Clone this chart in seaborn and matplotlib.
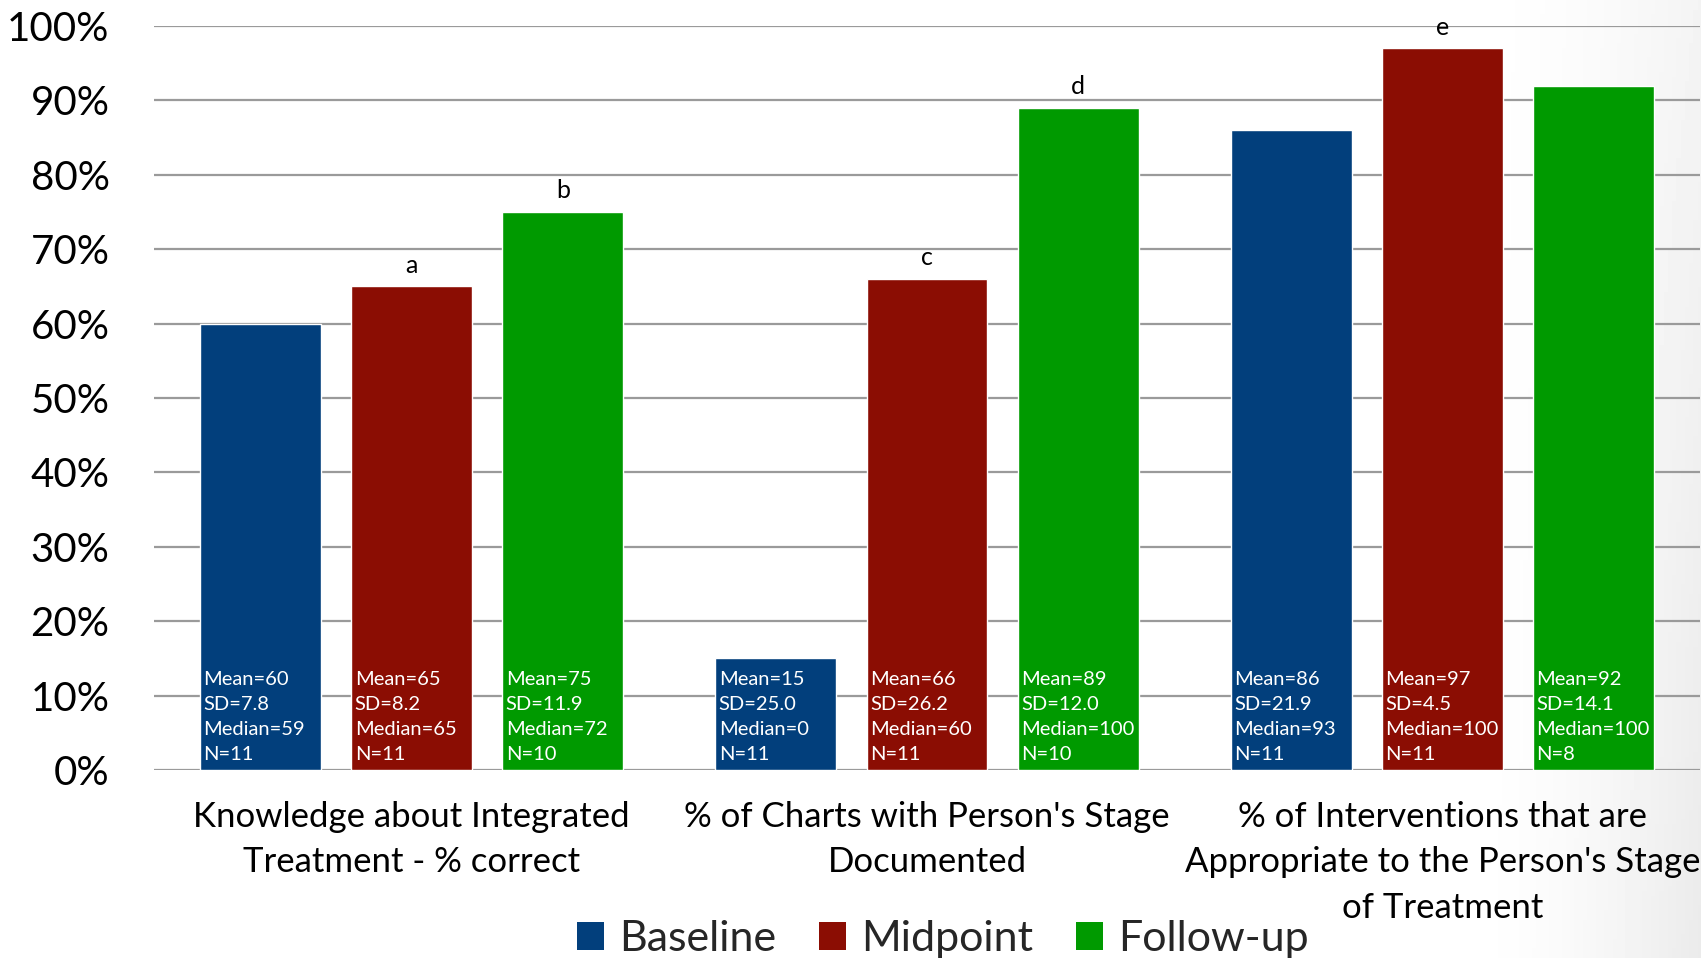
import numpy as np
import pandas as pd
import matplotlib
matplotlib.use("Agg")
import matplotlib.pyplot as plt
import seaborn as sns
from matplotlib.patches import Patch

# ---- data ----
categories = [
    "Knowledge about Integrated\nTreatment - % correct",
    "% of Charts with Person's Stage\nDocumented",
    "% of Interventions that are\nAppropriate to the Person's Stage\nof Treatment",
]
phases = ["Baseline", "Midpoint", "Follow-up"]
baseline_mean = [60, 15, 86]
midpoint_mean = [65, 66, 97]
followup_mean = [75, 89, 92]
baseline_sd = ["7.8", "25.0", "21.9"]
midpoint_sd = ["8.2", "26.2", "4.5"]
followup_sd = ["11.9", "12.0", "14.1"]
baseline_median = [59, 0, 93]
midpoint_median = [65, 60, 100]
followup_median = [72, 100, 100]
baseline_n = [11, 11, 11]
midpoint_n = [11, 11, 11]
followup_n = [10, 10, 8]
baseline_letter = ["", "", ""]
midpoint_letter = ["a", "c", "e"]
followup_letter = ["b", "d", ""]

colors = ["#023F7C", "#8B0D03", "#009A00"]

means = [baseline_mean, midpoint_mean, followup_mean]
sds = [baseline_sd, midpoint_sd, followup_sd]
medians = [baseline_median, midpoint_median, followup_median]
ns = [baseline_n, midpoint_n, followup_n]
letters = [baseline_letter, midpoint_letter, followup_letter]

rows = []
for p, phase in enumerate(phases):
    for c, cat in enumerate(categories):
        rows.append({"category": cat, "phase": phase, "value": means[p][c] / 100.0})
df = pd.DataFrame(rows)

# ---- figure ----
sns.set_theme(style="white")
plt.rcParams["font.family"] = ["Lato", "DejaVu Sans"]

fig = plt.figure(figsize=(17.01, 9.58), dpi=100)

# subtle slide-background shading toward the right edge
bg = fig.add_axes([0, 0, 1, 1], zorder=-10)
gx = np.linspace(0, 1, 400)
gy = np.linspace(0, 1, 200)
GX, GY = np.meshgrid(gx, gy)
shade = np.clip((GX - 0.86) / 0.14, 0, 1) ** 1.6 * (0.55 + 0.45 * GY)
bg.imshow(1 - 0.08 * shade, cmap="gray", vmin=0, vmax=1, aspect="auto",
          extent=[0, 1, 0, 1], origin="upper")
bg.set_axis_off()

ax = fig.add_axes([154 / 1701, 188 / 958, 1546 / 1701, 744 / 958])
ax.patch.set_alpha(0)

sns.barplot(data=df, x="category", y="value", hue="phase", order=categories,
            hue_order=phases, palette=colors, width=0.88, gap=0.2,
            saturation=1, ax=ax, legend=False, zorder=3)

ax.set_xlim(-0.5, 2.5)
ax.set_ylim(0, 1.0)
ax.set_yticks(np.arange(0, 1.01, 0.1))
ax.set_yticklabels([f"{int(round(v * 100))}%" for v in np.arange(0, 1.01, 0.1)],
                   fontsize=29, color="black")
ax.yaxis.grid(True, color="#9a9a9a", linewidth=1.6, zorder=0)
ax.set_axisbelow(True)
ax.tick_params(axis="y", length=0, pad=32)
ax.tick_params(axis="x", length=0, pad=22)
ax.set_xticks(range(len(categories)))
ax.set_xticklabels(categories, fontsize=25, color="black", linespacing=1.52, va="top")
for s in ax.spines.values():
    s.set_visible(False)
ax.set_xlabel("")
ax.set_ylabel("")

for p, cont in enumerate(ax.containers):
    for c, bar in enumerate(cont):
        x0 = bar.get_x()
        h = bar.get_height()
        txt = (f"Mean={means[p][c]}\nSD={sds[p][c]}\n"
               f"Median={medians[p][c]}\nN={ns[p][c]}")
        t = ax.annotate(txt, xy=(x0, 0), xytext=(2.5, 5), textcoords="offset points",
                        ha="left", va="bottom", color="white", fontsize=14.5,
                        linespacing=1.58, zorder=5, annotation_clip=False)
        t.set_clip_path(bar)
        if letters[p][c]:
            ax.annotate(letters[p][c], xy=(x0 + bar.get_width() / 2, h),
                        xytext=(0, 7), textcoords="offset points",
                        ha="center", va="bottom", fontsize=18, color="black",
                        annotation_clip=False, zorder=5)

handles = [Patch(facecolor=col, edgecolor="none") for col in colors]
fig.legend(handles, phases, loc="center", bbox_to_anchor=(943 / 1701, 1 - 939 / 958),
           ncol=3, frameon=False, fontsize=31, handlelength=0.62, handleheight=0.62,
           handletextpad=0.35, columnspacing=1.0, borderaxespad=0)

fig.savefig("out.png", dpi=100, facecolor="white")
